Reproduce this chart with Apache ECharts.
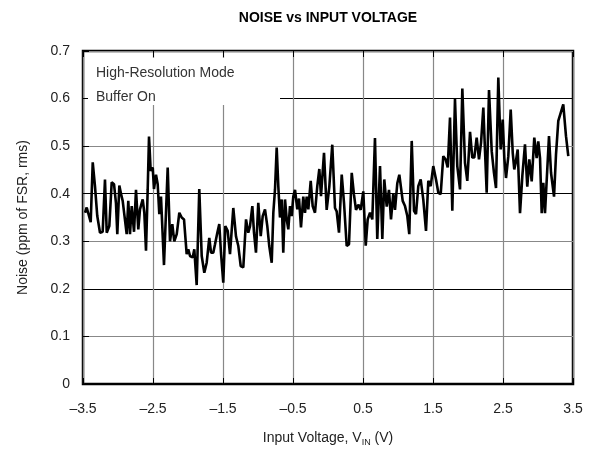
<!DOCTYPE html>
<html>
<head>
<meta charset="utf-8">
<script src="https://cdn.jsdelivr.net/npm/echarts@6/dist/echarts.min.js"></script>
<style>
  html, body { margin: 0; padding: 0; background: #fff; }
  #chart { width: 594px; height: 456px; }
</style>
</head>
<body>
<div id="chart"></div>
<script>
// 输入电压 (V) 与噪声 (ppm of FSR, rms)
const voltage = [
  -3.471, -3.447, -3.424, -3.390, -3.361, -3.329, -3.296, -3.257, -3.219, -3.186,
  -3.161, -3.124, -3.090, -3.057, -3.029, -3.010, -2.981, -2.957, -2.933, -2.910,
  -2.876, -2.853, -2.829, -2.804, -2.771, -2.743, -2.710, -2.686, -2.647, -2.624,
  -2.600, -2.576, -2.557, -2.533, -2.504, -2.486, -2.457, -2.433, -2.410, -2.386,
  -2.343, -2.290, -2.257, -2.224, -2.196, -2.161, -2.124, -2.090, -2.057, -2.019,
  -1.996, -1.971, -1.933, -1.910, -1.876, -1.839, -1.804, -1.767, -1.733, -1.696,
  -1.671, -1.639, -1.614, -1.581, -1.553, -1.529, -1.496, -1.467, -1.433, -1.400,
  -1.353, -1.314, -1.281, -1.247, -1.210, -1.171, -1.139, -1.114, -1.081, -1.057,
  -1.029, -0.996, -0.961, -0.933, -0.900, -0.867, -0.839, -0.804, -0.781, -0.757,
  -0.733, -0.710, -0.686, -0.661, -0.639, -0.614, -0.590, -0.567, -0.543, -0.519,
  -0.496, -0.471, -0.439, -0.414, -0.386, -0.353, -0.329, -0.304, -0.281, -0.247,
  -0.219, -0.186, -0.153, -0.124, -0.100, -0.076, -0.057, -0.019, 0.019, 0.061,
  0.100, 0.124, 0.157, 0.196, 0.229, 0.267, 0.300, 0.339, 0.371, 0.400,
  0.433, 0.467, 0.504, 0.539, 0.567, 0.600, 0.633, 0.671, 0.704, 0.743,
  0.776, 0.804, 0.839, 0.871, 0.900, 0.933, 0.957, 0.990, 1.019, 1.067,
  1.100, 1.133, 1.161, 1.196, 1.229, 1.257, 1.290, 1.324, 1.361, 1.400,
  1.433, 1.467, 1.504, 1.543, 1.576, 1.610, 1.647, 1.681, 1.710, 1.743,
  1.776, 1.814, 1.847, 1.886, 1.919, 1.957, 1.990, 2.029, 2.061, 2.090,
  2.124, 2.157, 2.186, 2.219, 2.243, 2.267, 2.300, 2.339, 2.371, 2.400,
  2.433, 2.467, 2.496, 2.519, 2.543, 2.576, 2.610, 2.639, 2.661, 2.681,
  2.710, 2.743, 2.776, 2.814, 2.847, 2.876, 2.910, 2.947, 2.981, 3.004,
  3.029, 3.053, 3.076, 3.100, 3.124, 3.157, 3.186, 3.229, 3.257, 3.290,
  3.361, 3.400, 3.433
]
const noise = [
  0.360, 0.371, 0.367, 0.340, 0.466, 0.416, 0.353, 0.318, 0.320, 0.430,
  0.318, 0.332, 0.424, 0.420, 0.380, 0.315, 0.417, 0.400, 0.385, 0.388,
  0.315, 0.385, 0.315, 0.374, 0.320, 0.408, 0.325, 0.367, 0.388, 0.360,
  0.280, 0.408, 0.520, 0.448, 0.455, 0.410, 0.440, 0.420, 0.357, 0.394,
  0.250, 0.455, 0.300, 0.336, 0.300, 0.315, 0.360, 0.350, 0.346, 0.273,
  0.283, 0.269, 0.266, 0.283, 0.208, 0.410, 0.269, 0.234, 0.255, 0.307,
  0.276, 0.276, 0.294, 0.318, 0.336, 0.276, 0.213, 0.332, 0.322, 0.273,
  0.370, 0.310, 0.290, 0.248, 0.245, 0.346, 0.318, 0.332, 0.374, 0.318,
  0.276, 0.381, 0.311, 0.353, 0.367, 0.332, 0.290, 0.255, 0.360, 0.409,
  0.497, 0.416, 0.350, 0.388, 0.276, 0.388, 0.346, 0.325, 0.374, 0.353,
  0.394, 0.408, 0.367, 0.390, 0.329, 0.394, 0.360, 0.394, 0.367, 0.427,
  0.374, 0.360, 0.416, 0.452, 0.395, 0.394, 0.486, 0.366, 0.415, 0.503,
  0.370, 0.363, 0.318, 0.440, 0.380, 0.290, 0.294, 0.444, 0.398, 0.366,
  0.377, 0.366, 0.405, 0.291, 0.346, 0.360, 0.346, 0.517, 0.305, 0.458,
  0.305, 0.430, 0.373, 0.408, 0.346, 0.401, 0.366, 0.422, 0.440, 0.385,
  0.374, 0.353, 0.315, 0.511, 0.364, 0.357, 0.416, 0.430, 0.388, 0.322,
  0.427, 0.416, 0.458, 0.430, 0.402, 0.399, 0.479, 0.472, 0.455, 0.560,
  0.364, 0.599, 0.458, 0.409, 0.621, 0.465, 0.427, 0.530, 0.476, 0.476,
  0.518, 0.472, 0.507, 0.581, 0.490, 0.402, 0.618, 0.489, 0.444, 0.412,
  0.644, 0.493, 0.556, 0.475, 0.433, 0.479, 0.577, 0.486, 0.451, 0.465,
  0.493, 0.359, 0.437, 0.504, 0.415, 0.472, 0.426, 0.518, 0.475, 0.510,
  0.475, 0.359, 0.423, 0.359, 0.359, 0.521, 0.444, 0.394, 0.482, 0.553,
  0.588, 0.521, 0.479
]
const xTicks = [-3.5, -2.5, -1.5, -0.5, 0.5, 1.5, 2.5, 3.5]

const FONT = 'Liberation Sans, Arial, Helvetica, sans-serif'
const fmtX = v => (v < 0 ? '\u2013' + Math.abs(v) : String(v))

const chart = echarts.init(document.getElementById('chart'))
chart.setOption({
  animation: false,
  backgroundColor: '#fff',
  grid: {
    left: 83, right: 21, top: 51, bottom: 72,
    show: true, borderColor: '#000', borderWidth: 2.5, backgroundColor: 'transparent'
  },
  xAxis: [
    {
      type: 'value', min: -3.5, max: 3.5,
      name: 'Input Voltage, V{sub|IN} (V)',
      nameLocation: 'middle', nameGap: 46,
      nameTextStyle: {
        color: '#222', fontSize: 14, fontFamily: FONT,
        rich: { sub: { fontSize: 9, fontFamily: FONT, color: '#222', padding: [8, 0, 0, 0] } }
      },
      axisLine: { show: false, onZero: false },
      axisTick: { show: true, inside: true, length: 6, lineStyle: { color: '#000' }, customValues: xTicks },
      axisLabel: { color: '#222', fontSize: 14, fontFamily: FONT, margin: 18, customValues: xTicks, formatter: fmtX },
      splitLine: { show: true, lineStyle: { color: '#888', width: 1.2 } }
    },
    {
      // 顶部内刻度
      type: 'value', min: -3.5, max: 3.5, position: 'top',
      axisLine: { show: false, onZero: false },
      axisTick: { show: true, inside: true, length: 6, lineStyle: { color: '#000' }, customValues: xTicks },
      axisLabel: { show: false },
      splitLine: { show: false }
    }
  ],
  yAxis: {
    type: 'value', min: 0, max: 0.7, interval: 0.1, position: 'left',
    name: 'Noise (ppm of FSR, rms)',
    nameLocation: 'middle', nameGap: 53,
    nameTextStyle: { color: '#222', fontSize: 14, fontFamily: FONT },
    axisLine: { show: false, onZero: false },
    axisTick: { show: true, inside: true, length: 6, lineStyle: { color: '#000' } },
    axisLabel: { color: '#222', fontSize: 14, fontFamily: FONT, margin: 13,
      formatter: v => (v === 0 ? '0' : v.toFixed(1)) },
    splitLine: { show: true, lineStyle: { color: ['#000', '#888'], width: 1.2 } }
  },
  graphic: [
    {
      type: 'text', x: 328, y: 11, z: 10,
      style: { text: 'NOISE vs INPUT VOLTAGE', fill: '#000', font: 'bold 14px ' + FONT, align: 'center' }
    },
    { type: 'rect', z: 100, shape: { x: 88, y: 58, width: 192, height: 47 }, style: { fill: '#fff' } },
    { type: 'text', z: 101, x: 96, y: 66, style: { text: 'High-Resolution Mode', fill: '#333', font: '14px ' + FONT } },
    { type: 'text', z: 101, x: 96, y: 90, style: { text: 'Buffer On', fill: '#333', font: '14px ' + FONT } }
  ],
  series: [
    {
      type: 'line',
      data: voltage.map((v, i) => [v, noise[i]]),
      showSymbol: false,
      lineStyle: { color: '#000', width: 2.6 },
      z: 5
    }
  ]
})
</script>
</body>
</html>
